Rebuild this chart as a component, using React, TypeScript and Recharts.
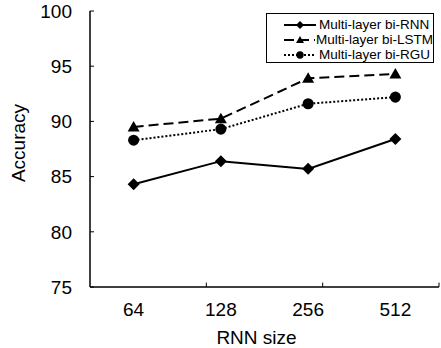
import { LineChart, Line, XAxis, YAxis, Legend, ReferenceArea, ReferenceLine } from 'recharts';

const sizes = ['64', '128', '256', '512'];
const rnn = [84.3, 86.4, 85.7, 88.4];
const lstm = [89.5, 90.25, 93.9, 94.3];
const rgu = [88.3, 89.3, 91.6, 92.2];
const yTicks = [75, 80, 85, 90, 95, 100];
const boundaryTicks = [1, 2, 3];
const seriesOrder = ['rnn', 'lstm', 'rgu'];

const data = sizes.map((s, i) => ({ size: s, rnn: rnn[i], lstm: lstm[i], rgu: rgu[i] }));

const FONT = '"Liberation Sans", Arial, sans-serif';

function markerPath(kind: string, cx: number, cy: number, s = 6) {
  if (kind === 'diamond') return `M${cx},${cy - s}L${cx + s},${cy}L${cx},${cy + s}L${cx - s},${cy}Z`;
  if (kind === 'triangle') return `M${cx},${cy - s}L${cx + s},${cy + s * 0.75}L${cx - s},${cy + s * 0.75}Z`;
  const r = s * 0.92;
  return `M${cx - r},${cy}a${r},${r} 0 1,0 ${2 * r},0a${r},${r} 0 1,0 ${-2 * r},0Z`;
}

const shapes: Record<string, string> = { rnn: 'diamond', lstm: 'triangle', rgu: 'circle' };

const makeDot = (kind: string) => (p: any) => {
  if (p.cx == null || p.cy == null) return <g key={p.index} />;
  return <path key={p.index} d={markerPath(kind, p.cx, p.cy)} fill="#000" stroke="none" />;
};

function renderLegend(props: any) {
  const payload = [...(props.payload || [])].sort(
    (a: any, b: any) => seriesOrder.indexOf(a.dataKey) - seriesOrder.indexOf(b.dataKey)
  );
  return (
    <div style={{ border: '1px solid #000', background: '#fff', width: 168, height: 50, padding: '3px 0 0 16px', boxSizing: 'border-box', fontFamily: FONT, fontSize: 13.5, color: '#000' }}>
      {payload.map((entry: any) => {
        const key = entry.dataKey as string;
        const dash = entry.payload?.strokeDasharray;
        return (
          <div key={key} style={{ display: 'flex', alignItems: 'center', height: 15 }}>
            <svg width={35} height={14} style={{ display: 'block' }}>
              <line x1={1} y1={7} x2={33} y2={7} stroke="#000" strokeWidth={2} strokeDasharray={dash} />
              <path d={markerPath(shapes[key], 17, 7, 4)} fill="#000" />
            </svg>
            <span style={{ marginLeft: 1, whiteSpace: 'nowrap' }}>{entry.value}</span>
          </div>
        );
      })}
    </div>
  );
}

const renderYLabel = (p: any) => {
  const vb = p.viewBox;
  const x = vb.x + 18.5;
  const y = vb.y + vb.height / 2 - 6;
  return (
    <text x={x} y={y} transform={`rotate(-90, ${x}, ${y})`} textAnchor="middle" dominantBaseline="central" fontSize={19} fontFamily={FONT} fill="#000">
      Accuracy
    </text>
  );
};

const renderXLabel = (p: any) => {
  const vb = p.viewBox;
  return (
    <text x={vb.x + vb.width / 2 - 8} y={vb.y + vb.height - 4} textAnchor="middle" fontSize={19} fontFamily={FONT} fill="#000">
      RNN size
    </text>
  );
};

export default function App() {
  return (
    <div style={{ width: 441, height: 348, position: 'relative', background: '#fff' }}>
      <style>{`body{margin:0}`}</style>
      <LineChart width={441} height={348} data={data} margin={{ top: 11, right: 2, bottom: 0, left: 0 }} style={{ fontFamily: FONT }}>
        <XAxis xAxisId="cat" dataKey="size" scale="band" height={61} tickSize={0} tickMargin={16} tickLine={false}
          axisLine={{ stroke: '#000', strokeWidth: 1.5 }} tick={{ fontSize: 19, fill: '#000', fontFamily: FONT }} label={renderXLabel} />
        <XAxis xAxisId="grid" type="number" domain={[0, 4]} hide />
        <YAxis domain={[75, 100]} ticks={yTicks} width={90} tickSize={-4} tickMargin={22} interval={0}
          axisLine={{ stroke: '#000', strokeWidth: 1.5 }} tickLine={{ stroke: '#000' }} tick={{ fontSize: 19, fill: '#000', fontFamily: FONT }} label={renderYLabel} />
        <ReferenceArea xAxisId="grid" x1={0} x2={4} y1={75} y2={100} fill="none" stroke="#000" strokeWidth={1.5} />
        {boundaryTicks.map((b) => (
          <ReferenceLine key={b} xAxisId="grid" segment={[{ x: b, y: 75 }, { x: b, y: 75.4 }]} stroke="#000" strokeWidth={1} />
        ))}
        <Legend layout="vertical" align="center" verticalAlign="middle" content={renderLegend} wrapperStyle={{ left: 266, top: 13, width: 168, height: 50 }} />
        <Line xAxisId="cat" dataKey="rnn" name="Multi-layer bi-RNN" stroke="#000" strokeWidth={2} dot={makeDot('diamond')} isAnimationActive={false} />
        <Line xAxisId="cat" dataKey="lstm" name="Multi-layer bi-LSTM" stroke="#000" strokeWidth={2} strokeDasharray="10 5" dot={makeDot('triangle')} isAnimationActive={false} />
        <Line xAxisId="cat" dataKey="rgu" name="Multi-layer bi-RGU" stroke="#000" strokeWidth={2} strokeDasharray="2 2" dot={makeDot('circle')} isAnimationActive={false} />
      </LineChart>
    </div>
  );
}
